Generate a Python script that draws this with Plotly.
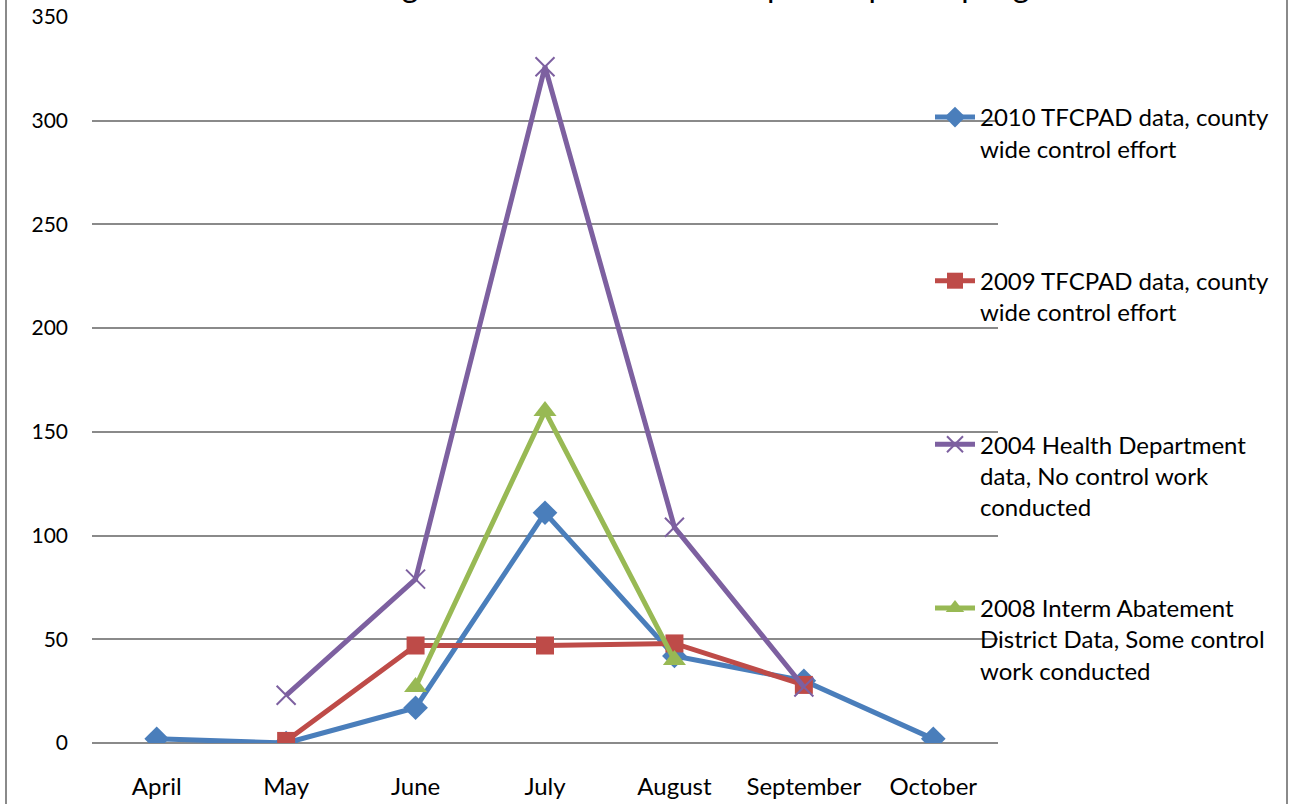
import plotly.graph_objects as go

months = ["April", "May", "June", "July", "August", "September", "October"]

s2010_name = "2010 TFCPAD data, county<br>wide control effort<br> "
s2010 = [2, 0, 17, 111, 42, 30, 2]

s2009_name = "2009 TFCPAD data, county<br>wide control effort<br> "
s2009 = [None, 1, 47, 47, 48, 28, None]

s2004_name = "2004 Health Department<br>data, No control work<br>conducted"
s2004 = [None, 23, 79, 326, 104, 27, None]

s2008_name = "2008 Interm Abatement<br>District Data, Some control<br>work conducted"
s2008 = [None, None, 27, 160, 40, None, None]

title_text = "Average number of female mosquitoes per trap night"

FONT = "Lato"

fig = go.Figure()
fig.add_trace(go.Scatter(
    x=months, y=s2010, name=s2010_name, mode="lines+markers", legendgroup="a",
    line=dict(color="#4A7EBB", width=5),
    marker=dict(symbol="diamond", size=19, color="#4A7EBB")))
fig.add_trace(go.Scatter(
    x=months, y=s2009, name=s2009_name, mode="lines+markers", legendgroup="b",
    line=dict(color="#BE4B48", width=5),
    marker=dict(symbol="square", size=18, color="#BE4B48")))
fig.add_trace(go.Scatter(
    x=months, y=s2004, name=s2004_name, mode="lines+markers", legendgroup="c",
    line=dict(color="#7D60A0", width=5),
    marker=dict(symbol="x-thin-open", size=19, color="#7D60A0",
                line=dict(color="#7D60A0", width=2))))
fig.add_trace(go.Scatter(
    x=months, y=s2008, name=s2008_name, mode="lines+markers", legendgroup="d",
    line=dict(color="#98B954", width=5),
    marker=dict(symbol="triangle-up", size=20, color="#98B954")))

L, R, T, B = 92, 291, 17, 61
W, H = 1289, 804
pw = W - L - R
ph = H - T - B

def px2paper(x):
    return (x - L) / pw

fig.update_layout(
    width=W, height=H,
    margin=dict(l=L, r=R, t=T, b=B, pad=0, autoexpand=False),
    paper_bgcolor="white", plot_bgcolor="white",
    font=dict(family=FONT, color="black", size=21),
    showlegend=True,
    legend=dict(
        x=px2paper(930), y=(H - B - 95) / ph, xanchor="left", yanchor="top",
        bgcolor="rgba(0,0,0,0)", font=dict(family=FONT, size=24),
        tracegroupgap=67, valign="top", traceorder="grouped",
        itemwidth=40,
    ),
    xaxis=dict(
        type="category", categoryorder="array", categoryarray=months,
        range=[-0.5, 6.5], showgrid=False, showline=False, zeroline=False,
        automargin=False,
        ticks="", tickfont=dict(size=24, family=FONT), ticklabelstandoff=27,
    ),
    yaxis=dict(
        range=[0, 350], dtick=50, showgrid=True, gridcolor="#8a8a8a", gridwidth=1.5,
        zeroline=True, zerolinecolor="#8a8a8a", zerolinewidth=1.5,
        automargin=False,
        showline=False, ticks="", tickfont=dict(size=21, family=FONT),
        ticklabelstandoff=23,
    ),
    shapes=[
        dict(type="line", xref="paper", yref="paper",
             x0=px2paper(6), x1=px2paper(6), y0=-0.2, y1=1.2,
             line=dict(color="#8a8a8a", width=2)),
        dict(type="line", xref="paper", yref="paper",
             x0=px2paper(1287), x1=px2paper(1287), y0=-0.2, y1=1.2,
             line=dict(color="#8a8a8a", width=2)),
    ],
    annotations=[
        dict(text=title_text, xref="paper", yref="paper",
             x=px2paper(690), y=1, xanchor="center", yanchor="bottom",
             yshift=11, showarrow=False,
             font=dict(family=FONT, size=32, color="black")),
    ],
)

fig.write_html("out.html", config={"displayModeBar": False},
               post_script="document.body.style.margin='0';document.body.style.padding='0';")
